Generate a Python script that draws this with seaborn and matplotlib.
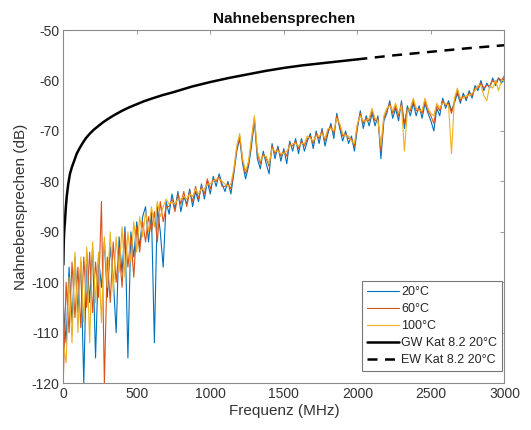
import numpy as np
import pandas as pd
import matplotlib
matplotlib.use("Agg")
import matplotlib.pyplot as plt
import seaborn as sns

# ---------------- data ----------------
freq_mhz = list(range(0, 3001, 20))

t20 = [-104, -112, -97, -108, -95, -106, -96, -120, -94, -104,
       -93, -115, -95, -101, -92, -103, -93, -99, -110, -91,
       -98, -89, -115, -90, -95, -88, -93, -87, -85, -92,
       -86, -112, -85, -90, -97, -84,
       -86.5, -82.5, -85.5, -82, -86, -83, -84.5, -81.5, -85, -82,
       -84, -80.5, -83.5, -80, -82.5, -79, -81, -78.5, -80.5, -82,
       -80, -82.5, -78.5,
       -74, -71.5, -76.5, -79.5, -77, -73, -68, -75.5, -77.5, -74,
       -76.5, -78.5, -72.5, -75.5, -73, -76, -73.5, -76.5, -72, -74,
       -71.5, -74.5, -71.5, -74, -72, -70.5, -73.5, -70, -72.5, -69.5,
       -73, -70.5, -68.5, -71.5, -66.5, -69.5, -72, -70, -72.5, -71,
       -74, -69.5, -66, -69.5, -67, -69, -66.5, -69, -67, -75.5,
       -68, -66.5, -64, -67.5, -65.5, -68, -64, -69.5, -65, -67,
       -64.5, -67, -65, -67.5, -64.5, -66.5, -68, -70, -65.5, -67,
       -63.5, -65.5, -64, -66, -64.5, -62.5, -64.5, -62.5, -64, -62,
       -63.5, -61, -62, -60, -62, -60.5, -61.5, -59.5, -61, -59.5,
       -60.5, -59.5]

t60 = [-120, -100, -110, -96, -107, -97, -109, -95, -105, -94,
       -106, -96, -103, -84, -120, -95, -104, -92, -100, -93,
       -101, -90, -97, -91, -99, -89, -94, -88, -92, -87,
       -90, -86, -92, -84, -88, -85,
       -85, -83.5, -86, -82.5, -84.5, -82, -85, -82, -84, -81,
       -83.5, -81, -82.5, -79.5, -81.5, -79.5, -80, -79, -81, -81,
       -80.5, -81.5, -78,
       -73.5, -71, -76, -78.5, -76.5, -72, -67.5, -74.5, -76.5, -74.5,
       -75.5, -77, -73, -74.5, -73.5, -75, -74, -75, -72.5, -73,
       -72, -73.5, -72, -73, -71.5, -71, -72.5, -70.5, -71.5, -70,
       -72, -70, -69, -70.5, -67, -69, -71, -70.5, -71.5, -71.5,
       -73, -69, -66.5, -68.5, -67.5, -68, -66, -68, -67.5, -74,
       -67.5, -66, -64.5, -66.5, -65, -67, -64.5, -68.5, -65.5, -66,
       -64, -66, -65.5, -66.5, -64, -66, -67, -68.5, -65, -66,
       -64, -65, -64.5, -66.5, -64, -62, -64, -63, -63.5, -62.5,
       -63, -61.5, -61.5, -60.5, -61.5, -61, -61, -60, -60.5, -59.5,
       -60, -59]

t100 = [-112, -116, -99, -112, -94, -110, -95, -108, -93, -112,
        -92, -104, -94, -108, -91, -101, -90, -102, -91, -98,
        -89, -99, -90, -96, -88, -94, -87, -91, -86, -90,
        -85, -89, -84, -87, -85, -83.5,
        -84.5, -84, -84.5, -83.5, -83.5, -83, -83.5, -82.5, -83, -81.5,
        -82.5, -81.5, -81.5, -80.5, -80.5, -80, -79.5, -79.5, -80, -80.5,
        -81, -80.5, -77.5,
        -73, -70.5, -75.5, -78, -76, -71.5, -67, -74, -76, -75,
        -75, -76.5, -73.5, -74, -74, -74.5, -74.5, -74, -73, -72.5,
        -72.5, -73, -72.5, -72.5, -71, -71.5, -72, -71, -71, -70.5,
        -71.5, -69.5, -69.5, -70, -67.5, -68.5, -70.5, -71, -71, -72,
        -72.5, -68.5, -67, -68, -68, -67.5, -65.5, -67.5, -68, -73,
        -67, -65.5, -65, -66, -64.5, -66.5, -65, -74, -66, -65.5,
        -63.5, -65.5, -66, -66, -63.5, -65.5, -66.5, -67, -64.5, -65.5,
        -64.5, -64.5, -65, -74.5, -63.5, -61.5, -63.5, -63.5, -63, -63,
        -62.5, -62, -61, -61, -63, -64, -61, -61.5, -60, -62,
        -60, -60]

gw_freq = [1, 2, 4, 6, 9, 12, 17, 24, 34, 46, 60, 75, 92, 110, 130, 155,
           182, 210, 240, 270, 300, 350, 400, 450, 500, 550, 600, 675,
           750, 875, 1000, 1125, 1250, 1375, 1500, 1625, 1750, 1875, 2000]
gw_db = [-96.5, -94.5, -92.0, -90.5, -89.0, -88.0, -85.5, -83.0, -80.6,
         -78.5, -77.1, -75.9, -74.5, -73.5, -72.5, -71.4, -70.5, -69.7,
         -69.0, -68.3, -67.7, -66.8, -66.0, -65.3, -64.7, -64.1, -63.6,
         -62.9, -62.3, -61.2, -60.3, -59.5, -58.8, -58.1, -57.5, -57.0,
         -56.6, -56.2, -55.8]

ew_freq = [2000, 2250, 2500, 2750, 3000]
ew_db = [-55.8, -55.0, -54.3, -53.6, -53.0]

labels = ["20°C", "60°C", "100°C", "GW Kat 8.2 20°C", "EW Kat 8.2 20°C"]
x_ticks = [0, 500, 1000, 1500, 2000, 2500, 3000]
y_ticks = [-120, -110, -100, -90, -80, -70, -60, -50]

assert len(t20) == len(freq_mhz) and len(t60) == len(freq_mhz) and len(t100) == len(freq_mhz), (len(t20), len(t60), len(t100))

# ---------------- plotting ----------------
sns.set_theme(style="white")
plt.rcParams["font.family"] = ["Liberation Sans", "DejaVu Sans"]
plt.rcParams["axes.unicode_minus"] = False

fig = plt.figure(figsize=(5.31, 4.30), dpi=100)
ax = fig.add_axes([0.119, 0.109, 0.831, 0.821])

c_blue = "#0072BD"
c_orange = "#D95319"
c_yellow = "#EDB120"

df = pd.DataFrame({"f": freq_mhz, "t20": t20, "t60": t60, "t100": t100})
sns.lineplot(data=df, x="f", y="t20", ax=ax, color=c_blue, linewidth=0.8,
             label=labels[0], sort=False)
sns.lineplot(data=df, x="f", y="t60", ax=ax, color=c_orange, linewidth=0.8,
             label=labels[1], sort=False)
sns.lineplot(data=df, x="f", y="t100", ax=ax, color=c_yellow, linewidth=0.8,
             label=labels[2], sort=False)
sns.lineplot(x=gw_freq, y=gw_db, ax=ax, color="black", linewidth=1.8,
             label=labels[3], sort=False)
sns.lineplot(x=ew_freq, y=ew_db, ax=ax, color="black", linewidth=1.8,
             linestyle=(0, (4, 3)), label=labels[4], sort=False)

ax.set_xlim(0, 3000)
ax.set_ylim(-120, -50)
ax.set_xticks(x_ticks)
ax.set_yticks(y_ticks)

for s in ax.spines.values():
    s.set_visible(True)
    s.set_color("#8a8a8a")
    s.set_linewidth(0.8)
ax.tick_params(direction="in", length=3, width=0.6, color="#8a8a8a",
               top=True, right=True, labelsize=10, labelcolor="#333333",
               pad=3)

ax.set_title("Nahnebensprechen", fontsize=11, fontweight="bold", pad=5,
             color="#111111")
ax.set_xlabel("Frequenz (MHz)", fontsize=11, color="#333333", labelpad=2)
ax.set_ylabel("Nahnebensprechen (dB)", fontsize=11, color="#333333",
              labelpad=2)

leg = ax.legend(loc="lower right", bbox_to_anchor=(0.995, 0.034),
                fontsize=9, frameon=True, fancybox=False,
                edgecolor="#777777", framealpha=1, handlelength=2.5,
                handletextpad=0.2, labelspacing=0.4, borderpad=0.4,
                borderaxespad=0)
leg.get_frame().set_linewidth(0.8)

fig.savefig("out.png", dpi=100)
